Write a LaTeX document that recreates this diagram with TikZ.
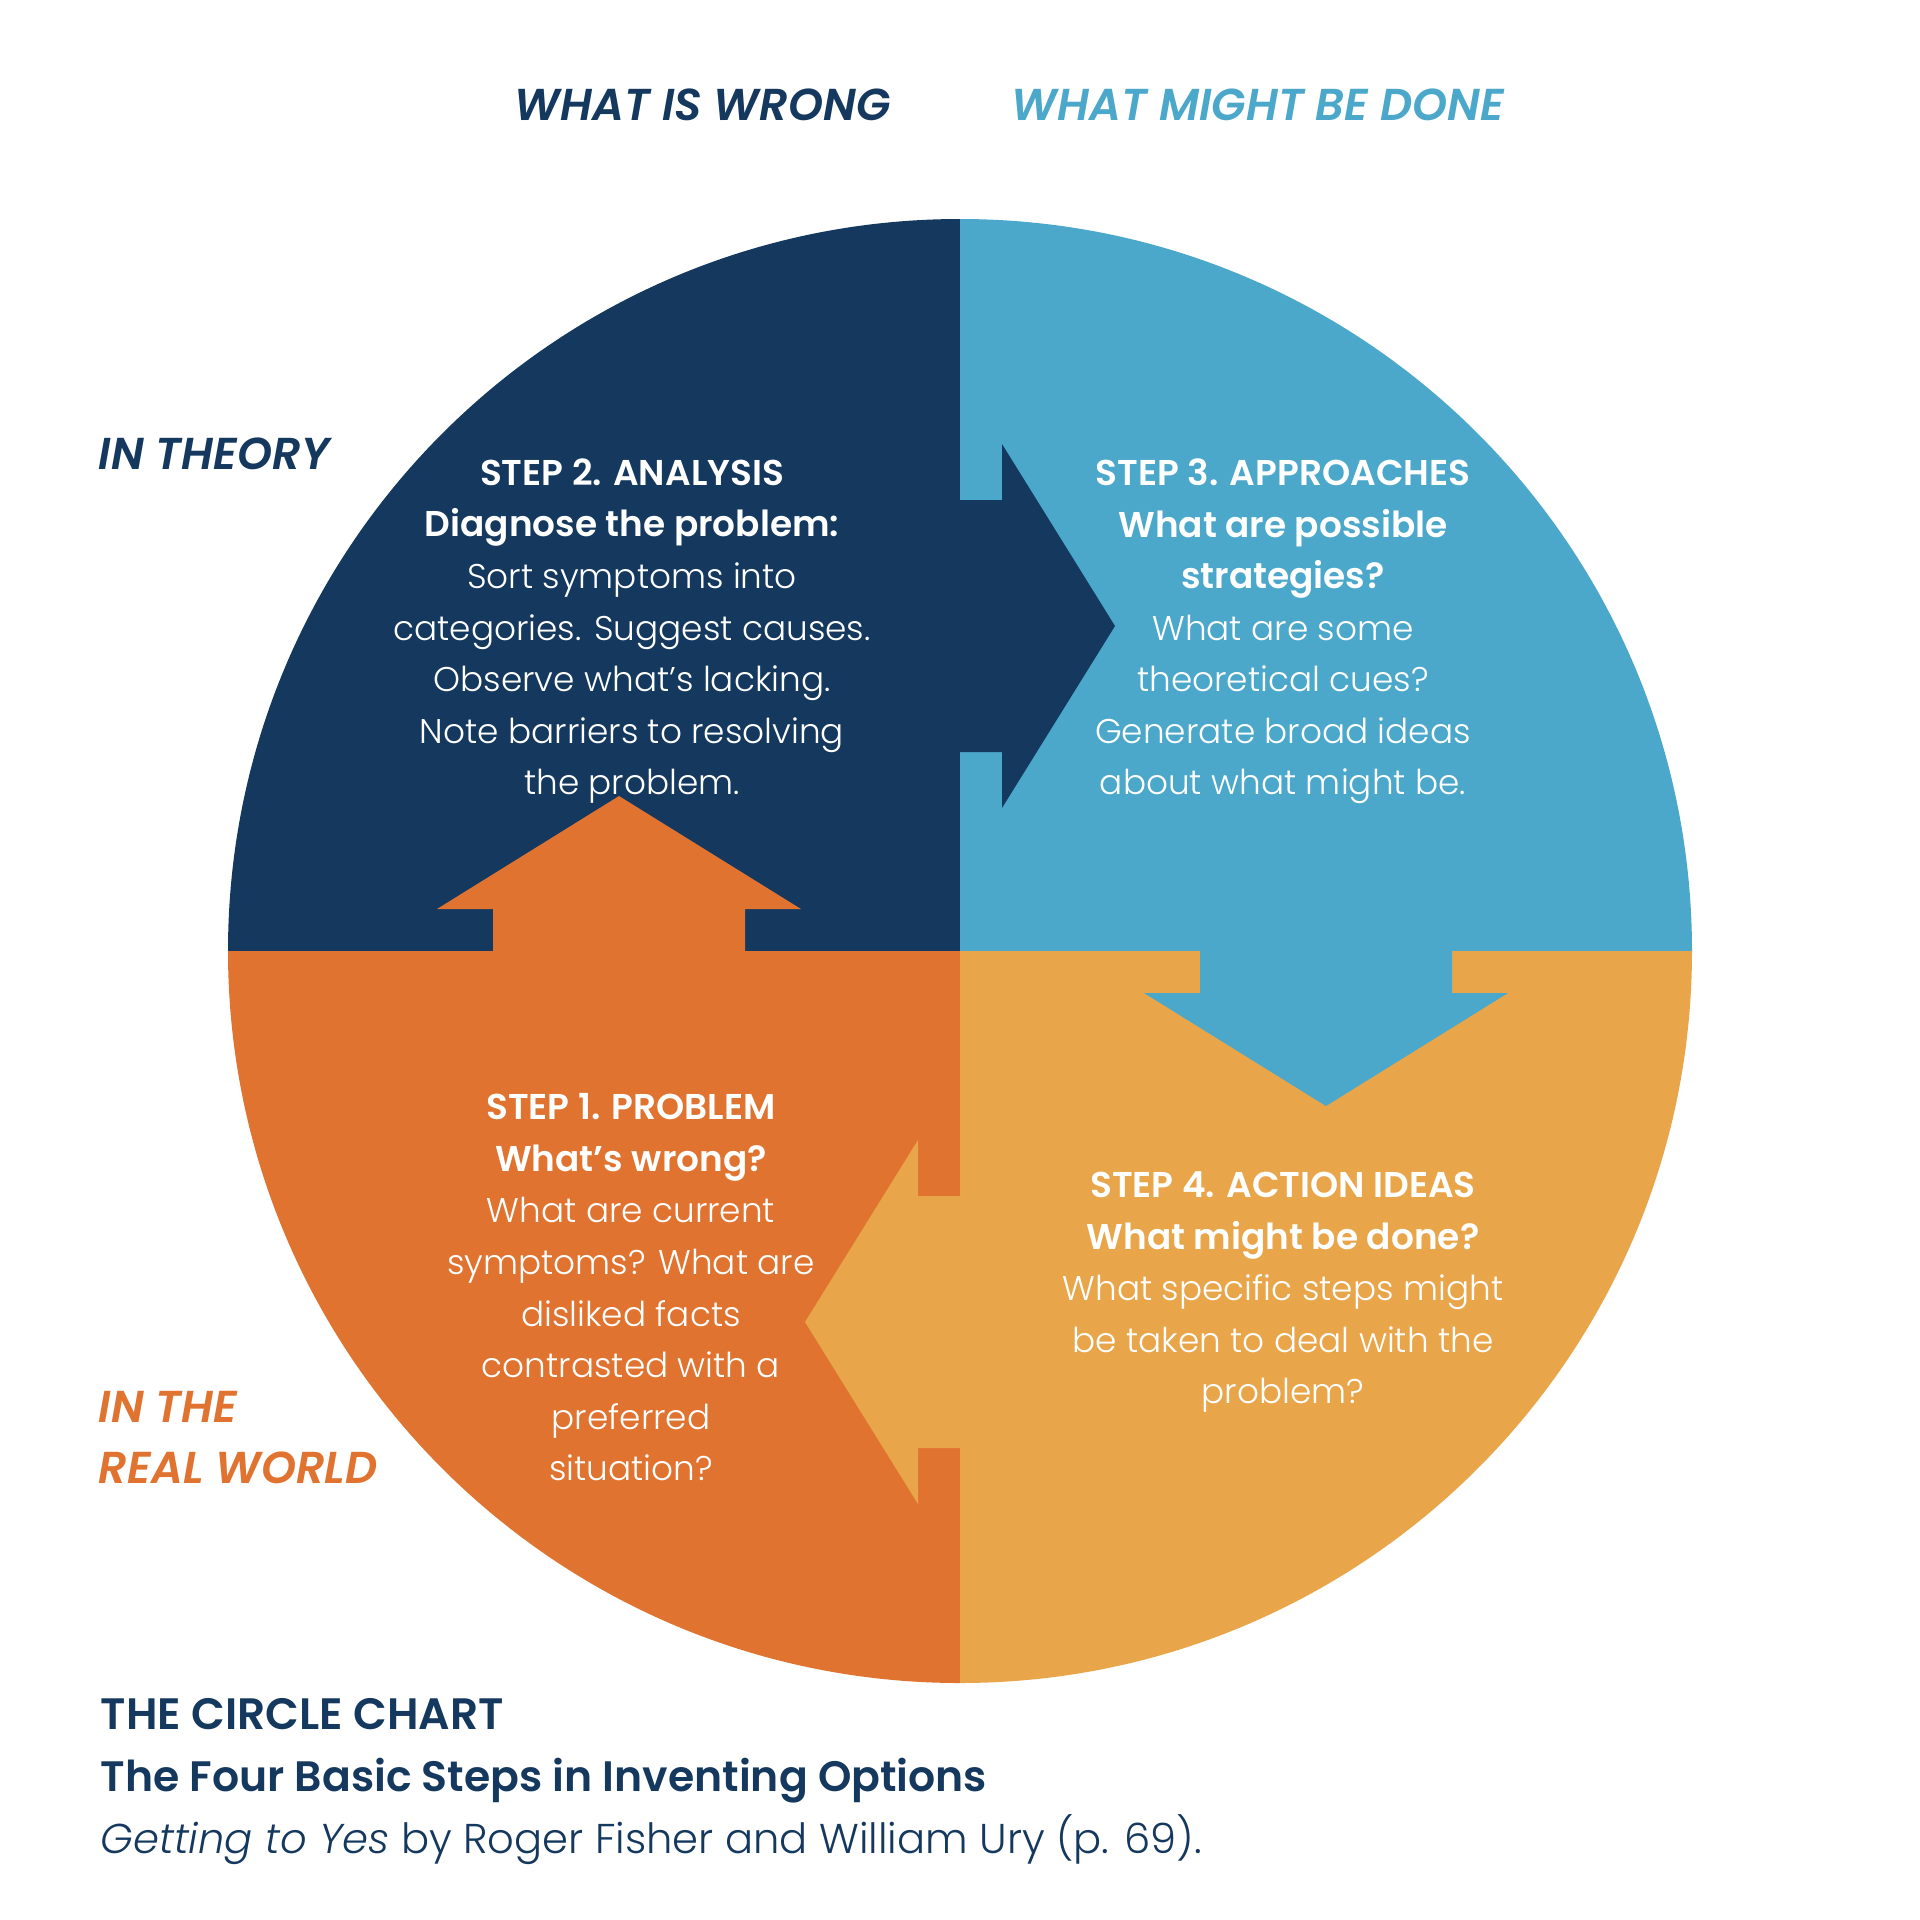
\documentclass[tikz,border=0pt]{standalone}
\usepackage{fontspec}
\setmainfont{Poppins}[UprightFont=* Light, ItalicFont=* Light Italic, BoldFont=* SemiBold, BoldItalicFont=* SemiBold Italic]
\usepackage{xcolor}
\usepackage{tikz}
\definecolor{navy}{HTML}{14385E}
\definecolor{sky}{HTML}{4BA8CA}
\definecolor{rust}{HTML}{E07330}
\definecolor{amber}{HTML}{E9A549}
\newcommand{\hd}[1]{{\bfseries\fontsize{10.2}{14.66}\selectfont #1}}
\tikzset{
  steptext/.style={text=white, align=center, anchor=north, inner sep=0pt, font=\fontsize{9.75}{14.66}\selectfont},
  sidelabel/.style={anchor=base west, inner sep=0pt, font=\bfseries\itshape\fontsize{12.7}{17.3}\selectfont},
  caption/.style={anchor=base west, inner sep=0pt, text=navy},
}

\begin{document}
\begin{tikzpicture}[x=0.01cm,y=-0.01cm]
  % 1 unit = 1 px of the 1920 x 1920 picture, y pointing down
  \fill[white] (0,0) rectangle (1920,1920);
  \useasboundingbox (0,0) rectangle (1920,1920);
  \begin{scope}
    \clip (960,951) circle[radius=732];
    \fill[navy]  (200,200) rectangle (960,951);
    \fill[sky]   (960,200) rectangle (1720,951);
    \fill[rust]  (200,951) rectangle (960,1720);
    \fill[amber] (960,951) rectangle (1720,1720);
  \end{scope}
  % block arrows: shaft 42 long, 252 wide; head 113 long, 364 wide
  \def\arrh#1#2#3#4{  % colour, base x, centre y, direction (+1 right, -1 left)
    \fill[#1] (#2,#3-126) -- (#2+#4*42,#3-126) -- (#2+#4*42,#3-182) -- (#2+#4*155,#3)
      -- (#2+#4*42,#3+182) -- (#2+#4*42,#3+126) -- (#2,#3+126) -- cycle;
  }
  \def\arrv#1#2#3#4{  % colour, centre x, base y, direction (+1 down, -1 up)
    \fill[#1] (#2-126,#3) -- (#2-126,#3+#4*42) -- (#2-182,#3+#4*42) -- (#2,#3+#4*155)
      -- (#2+182,#3+#4*42) -- (#2+126,#3+#4*42) -- (#2+126,#3) -- cycle;
  }
  \arrh{navy}{960}{626}{1}
  \arrv{sky}{1326}{951}{1}
  \arrh{amber}{960}{1322}{-1}
  \arrv{rust}{619}{951}{-1}
  % column and row labels
  \node[sidelabel,text=navy] (wrong) at (514,120) {WHAT IS WRONG};
  \node[sidelabel,text=sky] (done) at (1011,120) {WHAT MIGHT BE DONE};
  \node[sidelabel,text=navy] (theory) at (98,469) {IN THEORY};
  \node[sidelabel,text=rust,align=left,anchor=north west] (real) at (98,1391) {IN THE\\REAL WORLD};
  % the four steps
  \node[steptext] (step2) at (632,458) {\hd{STEP 2. ANALYSIS}\\\hd{Diagnose the problem:}\\Sort symptoms into\\categories. Suggest causes.\\Observe what’s lacking.\\Note barriers to resolving\\the problem.};
  \node[steptext] (step3) at (1283,458) {\hd{STEP 3. APPROACHES}\\\hd{What are possible}\\\hd{strategies?}\\What are some\\theoretical cues?\\Generate broad ideas\\about what might be.};
  \node[steptext] (step1) at (631,1093) {\hd{STEP 1. PROBLEM}\\\hd{What’s wrong?}\\What are current\\symptoms? What are\\disliked facts\\contrasted with a\\preferred\\situation?};
  \node[steptext] (step4) at (1283,1171) {\hd{STEP 4. ACTION IDEAS}\\\hd{What might be done?}\\What specific steps might\\be taken to deal with the\\problem?};
  % caption
  \node[caption,font=\bfseries\fontsize{12.5}{15}\selectfont] (title) at (100,1729) {THE CIRCLE CHART};
  \node[caption,font=\bfseries\fontsize{12.1}{15}\selectfont] (subtitle) at (100,1791) {The Four Basic Steps in Inventing Options};
  \node[caption,font=\fontsize{11.85}{15}\selectfont] (source) at (100,1853) {\textit{Getting to Yes} by Roger Fisher and William Ury (p. 69).};
\end{tikzpicture}
\end{document}
